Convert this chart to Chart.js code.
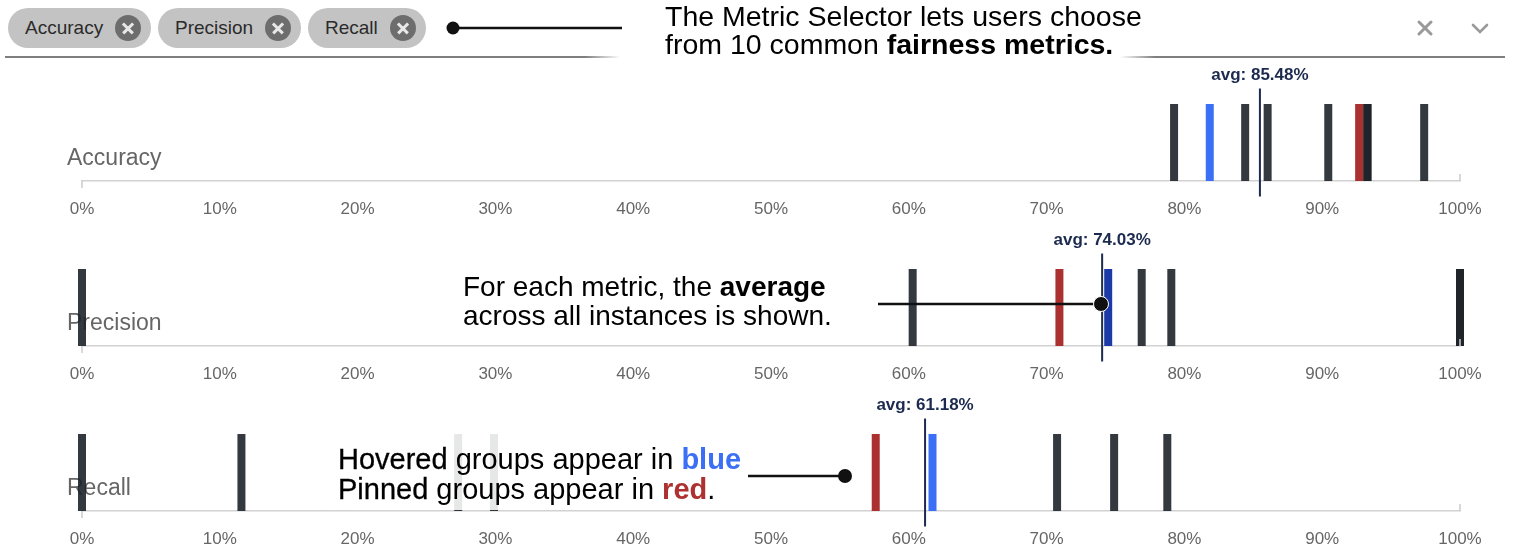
<!DOCTYPE html>
<html>
<head>
<meta charset="utf-8">
<script src="https://cdn.jsdelivr.net/npm/chart.js@4.4.1/dist/chart.umd.min.js"></script>
<style>
  body { margin: 0; width: 1515px; height: 555px; background: #fff; position: relative; overflow: hidden;
         font-family: "Liberation Sans", Arial, sans-serif; }
  .panel { position: absolute; left: 0; width: 1515px; height: 165px; }
  .chip { position: absolute; top: 8px; height: 40px; border-radius: 20px; background: #c3c3c3;
          font-size: 19px; color: #2b2b2b; line-height: 40px; padding-left: 17px; box-sizing: border-box; }
  .chip .x { position: absolute; top: 7px; right: 10px; width: 26px; height: 26px; border-radius: 13px;
             background: #6d6d6d; }
  .chip .x::before, .chip .x::after { content: ""; position: absolute; left: 6px; top: 12px; width: 14px; height: 2.6px;
             background: #e8e8e8; transform: rotate(45deg); }
  .chip .x::after { transform: rotate(-45deg); }
  .note { position: absolute; color: #000; font-size: 28px; line-height: 29px; white-space: nowrap; }
  .note b { font-weight: bold; }
  .med { -webkit-text-stroke: 0.3px #000; }
  .cover { position: absolute; background: linear-gradient(to right, rgba(255,255,255,0), rgba(255,255,255,0.88) 30px); }
  svg { position: absolute; left: 0; top: 0; }
</style>
</head>
<body>
<div class="chip" style="left:8px;width:143px;">Accuracy<span class="x"></span></div>
<div class="chip" style="left:158px;width:143px;">Precision<span class="x"></span></div>
<div class="chip" style="left:308px;width:118px;">Recall<span class="x"></span></div>

<div class="panel" style="top:60px;"><canvas id="accuracy"></canvas></div>
<div class="panel" style="top:225px;"><canvas id="precision"></canvas></div>
<div class="panel" style="top:390px;"><canvas id="recall"></canvas></div>

<svg width="1515" height="555">
  <line x1="5" y1="57" x2="1505" y2="57" stroke="#555" stroke-width="1.5"/>
  <g stroke="#9a9a9a" stroke-width="3" fill="none" stroke-linecap="round">
    <line x1="1419" y1="22" x2="1431" y2="34"/><line x1="1431" y1="22" x2="1419" y2="34"/>
    <polyline points="1473,25 1480,32 1487,25" stroke-width="2.6"/>
  </g>
</svg>

<div class="cover" style="left:585px;top:0;width:570px;height:62px;background:linear-gradient(to right, rgba(255,255,255,0), #fff 35px, #fff 535px, rgba(255,255,255,0));"></div>
<div class="cover" style="left:440px;top:266px;width:400px;height:74px;"></div>
<div class="cover" style="left:318px;top:428px;width:430px;height:82px;"></div>

<svg width="1515" height="555">
  <line x1="453" y1="28" x2="622" y2="28" stroke="#111" stroke-width="2.5"/>
  <circle cx="453" cy="28" r="6.5" fill="#111"/>
  <line x1="878" y1="304" x2="1101" y2="304" stroke="#111" stroke-width="2.5"/>
  <circle cx="1101" cy="304" r="7.5" fill="#111" stroke="#fff" stroke-width="1"/>
  <line x1="748" y1="476" x2="845" y2="476" stroke="#111" stroke-width="2.5"/>
  <circle cx="845" cy="476" r="7" fill="#111"/>
</svg>

<div class="note" style="left:665px;top:2px;line-height:28px;font-size:28.5px;">The Metric Selector lets users choose<br>from 10 common <b>fairness metrics.</b></div>
<div class="note" style="left:463px;top:272px;">For each metric, the <b>average</b><br>across all instances is shown.</div>
<div class="note" style="left:338px;top:444px;font-size:29px;line-height:30px;"><span class="med">Hovered</span> groups appear in <b style="color:#3b6ff5">blue</b><br><span class="med">Pinned</span> groups appear in <b style="color:#ad3131">red</b>.</div>

<script>
const tickValues = [0, 10, 20, 30, 40, 50, 60, 70, 80, 90, 100];

const accuracyGroups = [79.25, 84.41, 86.04, 90.44, 93.26, 93.3, 97.4];
const accuracyHovered = [81.84];
const accuracyPinned = [92.68];
const accuracyAvg = 85.48;

const precisionGroups = [0, 60.28, 76.9, 79.05, 100, 100];
const precisionHovered = [74.47];
const precisionPinned = [70.93];
const precisionAvg = 74.03;

const recallGroups = [0, 11.57, 27.3, 29.9, 70.76, 74.9, 78.76];
const recallHovered = [61.72];
const recallPinned = [57.6];
const recallAvg = 61.18;

function bars(values, color, radius, width) {
  return {
    data: values.map(v => ({ x: v, y: 0.5 })),
    pointStyle: "line",
    rotation: 90,
    radius: radius,
    borderWidth: width,
    borderColor: color,
    backgroundColor: color,
    clip: false,
  };
}

const panelText = {
  id: "panelText",
  beforeDatasetsDraw(chart, args, opts) {
    const ctx = chart.ctx;
    ctx.save();
    ctx.font = '23px "Liberation Sans", Arial, sans-serif';
    ctx.fillStyle = "#666";
    ctx.textBaseline = "middle";
    ctx.fillText(opts.title, 67, 99);
    ctx.restore();
  },
  afterDatasetsDraw(chart, args, opts) {
    const ctx = chart.ctx;
    const x = chart.scales.x.getPixelForValue(opts.avg);
    ctx.save();
    ctx.font = 'bold 17px "Liberation Sans", Arial, sans-serif';
    ctx.fillStyle = "#1b2a4e";
    ctx.textAlign = "center";
    ctx.textBaseline = "middle";
    ctx.fillText("avg: " + opts.avg.toFixed(2) + "%", x, 15);
    // axis end ticks
    const area = chart.chartArea;
    ctx.strokeStyle = "#ccc";
    ctx.lineWidth = 1.5;
    ctx.beginPath();
    ctx.moveTo(area.left, area.bottom);
    ctx.lineTo(area.left, area.bottom + 7);
    ctx.moveTo(area.right, area.bottom);
    ctx.lineTo(area.right, area.bottom - 7);
    ctx.stroke();
    ctx.restore();
  },
};

function makePanel(id, title, groups, hovered, pinned, avg, hoverColor) {
  new Chart(document.getElementById(id), {
    type: "scatter",
    data: {
      datasets: [
        bars(groups, "rgba(30,34,42,0.9)", 38.5, 8),
        bars(pinned, "#ab3131", 38.5, 8),
        bars(hovered, hoverColor, 38.5, 8),
        bars([avg], "#1b2a4e", 54, 2),
      ],
    },
    options: {
      responsive: false,
      animation: false,
      events: [],
      layout: { autoPadding: false, padding: { left: 82, right: 55, top: 44, bottom: 7 } },
      plugins: {
        legend: { display: false },
        tooltip: { enabled: false },
        panelText: { title: title, avg: avg },
      },
      scales: {
        x: {
          type: "linear",
          min: 0,
          max: 100,
          afterBuildTicks: (axis) => { axis.ticks = tickValues.map(v => ({ value: v })); },
          afterFit: (axis) => { axis.height = 37; },
          ticks: {
            callback: (v) => v + "%",
            color: "#666",
            font: { size: 17, family: '"Liberation Sans", Arial, sans-serif' },
            padding: 18,
            maxRotation: 0,
          },
          grid: { display: false, drawTicks: false },
          border: { color: "#d2d2d2", width: 1.5 },
        },
        y: { min: 0, max: 1, display: false },
      },
    },
    plugins: [panelText],
  });
}

document.querySelectorAll("canvas").forEach(c => { c.width = 1515; c.height = 165; c.style.width = "1515px"; c.style.height = "165px"; });

makePanel("accuracy", "Accuracy", accuracyGroups, accuracyHovered, accuracyPinned, accuracyAvg, "#3b6ff5");
makePanel("precision", "Precision", precisionGroups, precisionHovered, precisionPinned, precisionAvg, "#1c3aa6");
makePanel("recall", "Recall", recallGroups, recallHovered, recallPinned, recallAvg, "#3b6ff5");
</script>
</body>
</html>
